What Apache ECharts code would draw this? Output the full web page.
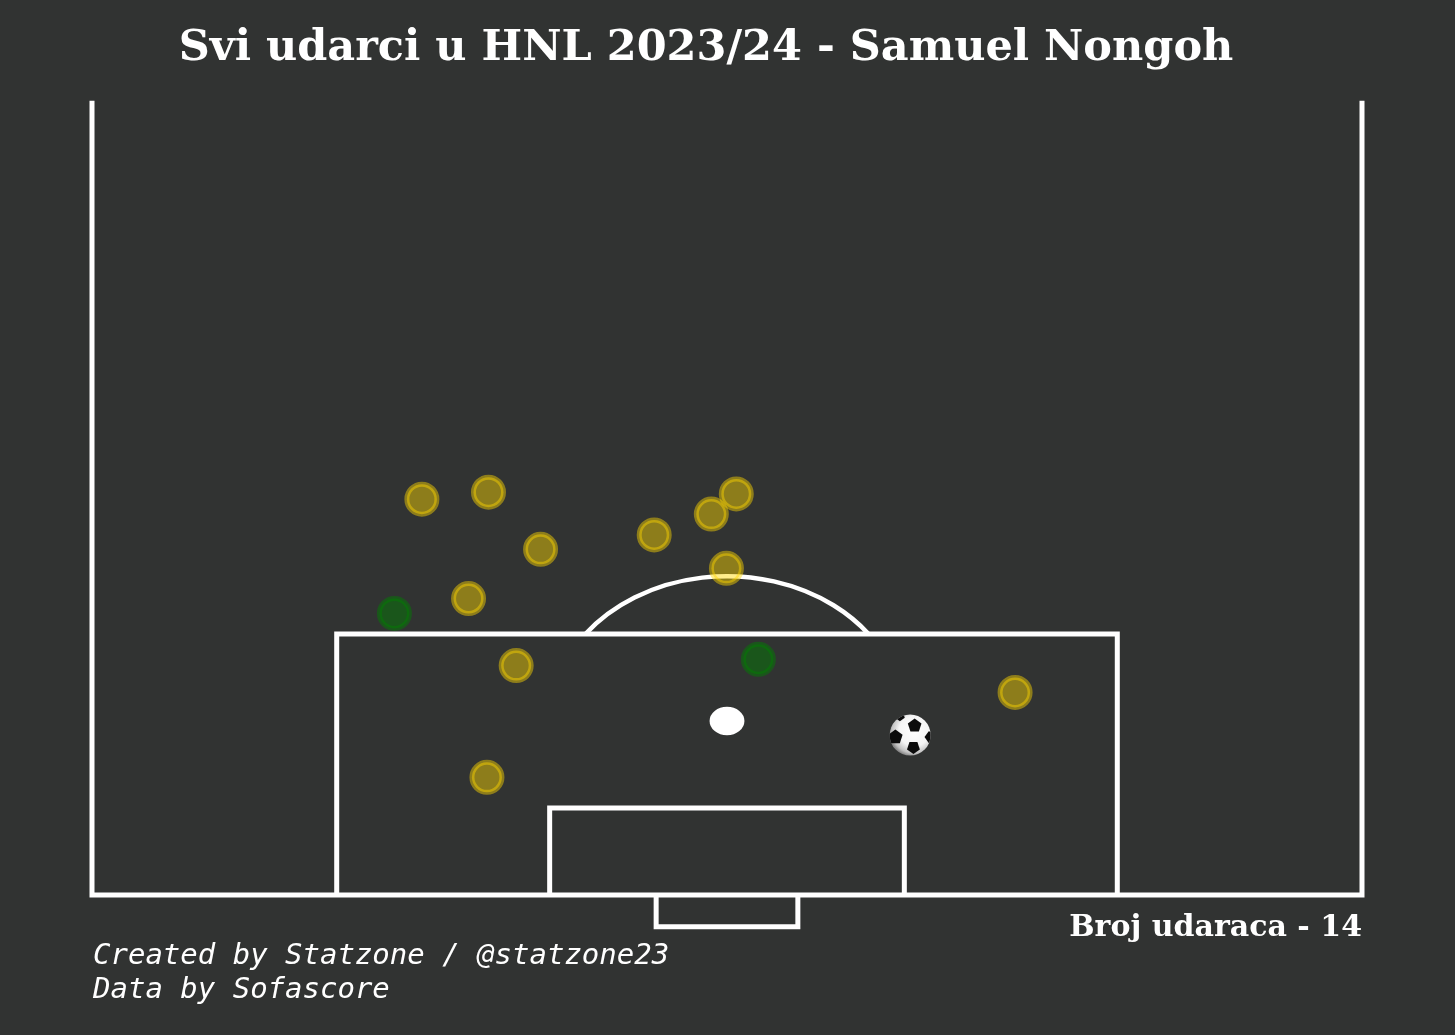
<!DOCTYPE html>
<html>
<head>
<meta charset="utf-8">
<script src="https://cdn.jsdelivr.net/npm/echarts@6/dist/echarts.min.js"></script>
<style>
  html, body { margin: 0; padding: 0; background: #313332; }
  #main { width: 1455px; height: 1035px; }
</style>
</head>
<body>
<div id="main"></div>
<script>
// pitch geometry, metres (x across the pitch from centre, y up from goal line)
const pitchHalfWidth = 32.8;
const pitchTop = 50.2;
const boxHalfWidth = 20.16;
const boxDepth = 16.5;
const sixHalfWidth = 9.16;
const sixDepth = 5.5;
const goalHalfWidth = 3.66;
const goalDepth = 2.0;
const spotDist = 11;
const spotRadius = 0.9;
const arcRadius = 9.15;

// shots [x, y]
const missedShots = [
  [-15.76, 25.02], [-12.32, 25.46], [-9.63, 21.85], [-3.76, 22.76],
  [-0.81, 24.08], [0.48, 25.35], [-0.03, 20.65], [-13.35, 18.74],
  [-10.89, 14.50], [14.88, 12.80], [-12.40, 7.44]
];
const onTargetShots = [[-17.18, 17.80], [1.62, 14.90]];
const goals = [[9.46, 10.11]];

const titleText = 'Svi udarci u HNL 2023/24 - Samuel Nongoh';
const countText = 'Broj udaraca - ' + (missedShots.length + onTargetShots.length + goals.length);
const creditLines = ['Created by Statzone / @statzone23', 'Data by Sofascore'];

const lineColor = '#ffffff';
const bgColor = '#313332';
const ballRadius = 20.5;

const pitchLines = [
  [[-pitchHalfWidth, pitchTop], [-pitchHalfWidth, 0], [pitchHalfWidth, 0], [pitchHalfWidth, pitchTop]],
  [[-boxHalfWidth, 0], [-boxHalfWidth, boxDepth], [boxHalfWidth, boxDepth], [boxHalfWidth, 0]],
  [[-sixHalfWidth, 0], [-sixHalfWidth, sixDepth], [sixHalfWidth, sixDepth], [sixHalfWidth, 0]],
  [[-goalHalfWidth, 0], [-goalHalfWidth, -goalDepth], [goalHalfWidth, -goalDepth], [goalHalfWidth, 0]]
];

// ball icon patches: centre offset and size as fractions of the ball radius, rotation in degrees
const ballPatches = [
  [0.22, -0.46, 0.35, -90],
  [-0.72, 0.10, 0.37, -18],
  [0.16, 0.60, 0.33, 90],
  [1.00, 0.10, 0.30, 180],
  [-0.50, -0.92, 0.25, -54]
];

function pentagonPoints(cx, cy, r, rot) {
  let pts = [];
  for (let k = 0; k < 5; k++) {
    const a = (rot + k * 72) * Math.PI / 180;
    pts.push([cx + r * Math.cos(a), cy + r * Math.sin(a)]);
  }
  return pts;
}

const chart = echarts.init(document.getElementById('main'), null, { renderer: 'canvas' });

const option = {
  backgroundColor: bgColor,
  animation: false,
  grid: { left: 92, right: 93, top: 100.8, bottom: 140 },
  xAxis: { type: 'value', min: -pitchHalfWidth, max: pitchHalfWidth, show: false, splitLine: { show: false } },
  yAxis: { type: 'value', min: 0, max: pitchTop, show: false, splitLine: { show: false } },
  graphic: [
    {
      type: 'text', x: 706, y: 49, z: 10,
      style: {
        text: titleText, fill: '#ffffff', align: 'center', verticalAlign: 'middle',
        font: 'bold 43px "DejaVu Serif"'
      }
    },
    {
      type: 'text', x: 1362, y: 928, z: 10,
      style: {
        text: countText, fill: '#ffffff', align: 'right', verticalAlign: 'middle',
        font: 'bold 30px "DejaVu Serif"'
      }
    },
    {
      type: 'text', x: 93, y: 939, z: 10,
      style: {
        text: creditLines.join('\n'), fill: '#ffffff', lineHeight: 34,
        font: 'italic 29px "DejaVu Sans Mono"'
      }
    }
  ],
  series: [
    {
      type: 'custom',
      silent: true,
      clip: false,
      z: 1,
      data: pitchLines.map(function (d, i) { return [i]; }).concat([[-1], [-2]]),
      renderItem: function (params, api) {
        const idx = api.value(0);
        if (idx >= 0) {
          return {
            type: 'polyline',
            shape: { points: pitchLines[idx].map(function (p) { return api.coord(p); }) },
            style: { stroke: lineColor, lineWidth: 5, fill: null, lineJoin: 'miter' }
          };
        }
        const c = api.coord([0, spotDist]);
        if (idx === -1) {
          // penalty spot
          const r = api.size([spotRadius, spotRadius]);
          const d = 'M' + (c[0] - r[0]) + ' ' + c[1] +
            ' A' + r[0] + ' ' + r[1] + ' 0 1 0 ' + (c[0] + r[0]) + ' ' + c[1] +
            ' A' + r[0] + ' ' + r[1] + ' 0 1 0 ' + (c[0] - r[0]) + ' ' + c[1] + ' Z';
          return { type: 'path', shape: { pathData: d }, style: { fill: lineColor, stroke: null } };
        }
        // penalty arc outside the box
        const dy = boxDepth - spotDist;
        const dx = Math.sqrt(arcRadius * arcRadius - dy * dy);
        const p1 = api.coord([-dx, boxDepth]);
        const p2 = api.coord([dx, boxDepth]);
        const rr = api.size([arcRadius, arcRadius]);
        const d2 = 'M' + p1[0] + ' ' + p1[1] + ' A' + rr[0] + ' ' + rr[1] + ' 0 0 1 ' + p2[0] + ' ' + p2[1];
        return { type: 'path', shape: { pathData: d2 }, style: { stroke: lineColor, lineWidth: 4.5, fill: null } };
      }
    },
    {
      name: 'Promašaj',
      type: 'scatter',
      z: 3,
      data: missedShots,
      symbol: 'circle',
      symbolSize: 30,
      itemStyle: {
        color: 'rgba(255, 215, 0, 0.45)',
        borderColor: 'rgba(255, 215, 0, 0.45)',
        borderWidth: 5,
        opacity: 1
      }
    },
    {
      name: 'U okvir',
      type: 'scatter',
      z: 3,
      data: onTargetShots,
      symbol: 'circle',
      symbolSize: 30,
      itemStyle: {
        color: 'rgba(0, 128, 0, 0.45)',
        borderColor: 'rgba(0, 128, 0, 0.45)',
        borderWidth: 5,
        opacity: 1
      }
    },
    {
      name: 'Gol',
      type: 'custom',
      z: 4,
      clip: false,
      data: goals,
      renderItem: function (params, api) {
        const c = api.coord([api.value(0), api.value(1)]);
        const R = ballRadius;
        const patches = ballPatches.map(function (p) {
          return {
            type: 'polygon',
            shape: { points: pentagonPoints(c[0] + p[0] * R, c[1] + p[1] * R, p[2] * R, p[3]) },
            style: { fill: '#0c0c0c' }
          };
        });
        return {
          type: 'group',
          children: [
            {
              type: 'circle',
              shape: { cx: c[0], cy: c[1], r: R },
              style: {
                fill: {
                  type: 'radial', x: 0.6, y: 0.4, r: 0.62,
                  colorStops: [
                    { offset: 0, color: '#ffffff' },
                    { offset: 0.6, color: '#f5f5f5' },
                    { offset: 0.88, color: '#c2c2c2' },
                    { offset: 1, color: '#8a8a8a' }
                  ]
                },
                stroke: null
              }
            },
            {
              type: 'group',
              clipPath: { type: 'circle', shape: { cx: c[0], cy: c[1], r: R } },
              children: patches
            }
          ]
        };
      }
    }
  ]
};

chart.setOption(option);
</script>
</body>
</html>
